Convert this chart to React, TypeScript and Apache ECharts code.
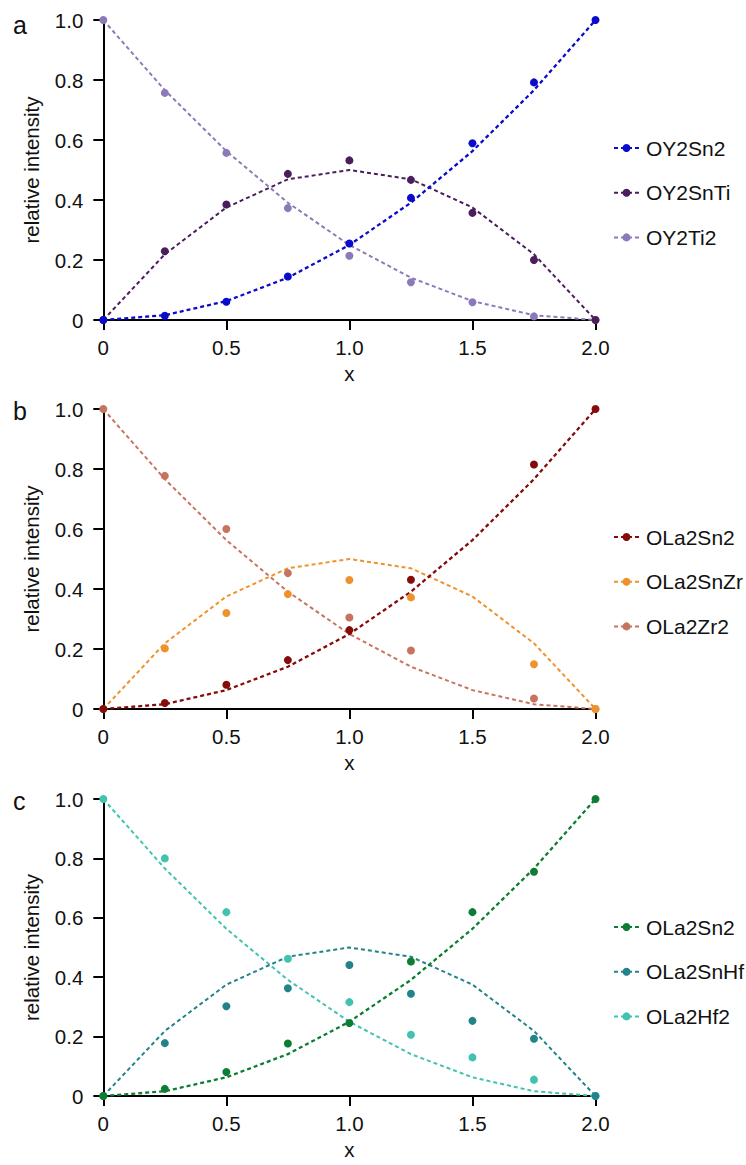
import React, { useEffect, useRef } from "react";
import * as echarts from "echarts";

// x positions (composition x)
const xValues = [0, 0.25, 0.5, 0.75, 1.0, 1.25, 1.5, 1.75, 2.0];
const xTickLabels = ["0", "0.5", "1.0", "1.5", "2.0"];
const yTickLabels = ["0", "0.2", "0.4", "0.6", "0.8", "1.0"];

// dashed (expected) curves
const lineSn2 = [0, 0.016, 0.063, 0.141, 0.25, 0.391, 0.563, 0.766, 1.0];
const lineMixed = [0, 0.219, 0.375, 0.469, 0.5, 0.469, 0.375, 0.219, 0];
const lineB2 = [1.0, 0.766, 0.563, 0.391, 0.25, 0.141, 0.063, 0.016, 0];

// panel a measured points
const aNames = ["OY2Sn2", "OY2SnTi", "OY2Ti2"];
const aColors = ["#0b0bcc", "#4a1d5c", "#8c79b9"];
const aSn2 = [0, 0.014, 0.061, 0.145, 0.255, 0.407, 0.589, 0.792, 1.0];
const aSnTi = [0, 0.229, 0.385, 0.487, 0.532, 0.467, 0.357, 0.2, 0];
const aTi2 = [1.0, 0.757, 0.557, 0.373, 0.214, 0.126, 0.059, 0.012, 0];

// panel b measured points (no point at x = 1.5)
const bNames = ["OLa2Sn2", "OLa2SnZr", "OLa2Zr2"];
const bColors = ["#860b0b", "#f0922c", "#c8735f"];
const bSn2 = [0, 0.02, 0.081, 0.163, 0.263, 0.431, null, 0.815, 1.0];
const bSnZr = [0, 0.202, 0.32, 0.383, 0.43, 0.372, null, 0.149, 0];
const bZr2 = [1.0, 0.777, 0.6, 0.453, 0.305, 0.195, null, 0.035, 0];

// panel c measured points
const cNames = ["OLa2Sn2", "OLa2SnHf", "OLa2Hf2"];
const cColors = ["#0c7d33", "#22838a", "#42c2b1"];
const cSn2 = [0, 0.024, 0.081, 0.177, 0.246, 0.453, 0.619, 0.755, 1.0];
const cSnHf = [0, 0.178, 0.302, 0.363, 0.441, 0.344, 0.253, 0.193, 0];
const cHf2 = [1.0, 0.8, 0.619, 0.462, 0.316, 0.206, 0.13, 0.055, 0];

const FONT = "'Liberation Sans', Arial, Helvetica, sans-serif";

type PanelProps = {
  letter: string;
  letterY: number;
  names: string[];
  colors: string[];
  points: (number | null)[][];
  top: number;
  height: number;
};

function buildOption(p: PanelProps) {
  const lines = [lineSn2, lineMixed, lineB2];
  const order = [2, 1, 0];
  const series: any[] = [];
  order.forEach((i) => {
    series.push({
      type: "line",
      name: p.names[i],
      data: xValues.map((x, k) => [x, lines[i][k]]),
      showSymbol: false,
      symbol: "circle",
      symbolSize: 8,
      color: p.colors[i],
      lineStyle: { color: p.colors[i], width: i === 0 ? 2.3 : 2, type: [4, 3] },
      itemStyle: { color: p.colors[i] },
      z: 2,
      silent: true,
    });
  });
  order.forEach((i) => {
    const data: number[][] = [];
    xValues.forEach((x, k) => {
      const v = p.points[i][k];
      if (v !== null && v !== undefined) data.push([x, v]);
    });
    series.push({
      type: "scatter",
      name: p.names[i],
      data,
      symbol: "circle",
      symbolSize: 8,
      itemStyle: { color: p.colors[i], opacity: 1 },
      z: 3,
      silent: true,
    });
  });

  const axisCommon = {
    axisLine: { show: true, lineStyle: { color: "#000", width: 2 } },
    axisTick: { show: true, length: 10, lineStyle: { color: "#000", width: 2 } },
    splitLine: { show: false },
    nameTextStyle: { fontSize: 20.5, color: "#111", fontFamily: FONT },
  };

  return {
    animation: false,
    textStyle: { fontFamily: FONT },
    grid: { left: 103.3, top: 20, width: 492.2, height: 302.3 },
    xAxis: {
      type: "value",
      min: 0,
      max: 2,
      interval: 0.5,
      ...axisCommon,
      axisLabel: {
        fontSize: 20.5,
        color: "#111",
        margin: 17,
        fontFamily: FONT,
        formatter: (v: number) => xTickLabels[Math.round(v / 0.5)],
      },
      name: "x",
      nameLocation: "middle",
      nameGap: 43,
    },
    yAxis: {
      type: "value",
      min: 0,
      max: 1,
      interval: 0.2,
      ...axisCommon,
      axisLabel: {
        fontSize: 20.5,
        color: "#111",
        margin: 20,
        fontFamily: FONT,
        formatter: (v: number) => yTickLabels[Math.round(v / 0.2)],
      },
      name: "relative intensity",
      nameLocation: "middle",
      nameRotate: 90,
      nameGap: 61,
    },
    legend: {
      orient: "vertical",
      left: 608,
      top: 132.5,
      itemWidth: 25,
      itemHeight: 10,
      itemGap: 23.7,
      selectedMode: false,
      data: p.names,
      textStyle: { fontSize: 21, color: "#111", fontFamily: FONT, padding: [0, 0, 0, 2] },
    },
    graphic: [
      {
        type: "text",
        left: 13,
        top: p.letterY,
        style: { text: p.letter, fontSize: 25, fill: "#111", fontFamily: FONT },
      },
    ],
    series,
  };
}

function Panel(p: PanelProps) {
  const ref = useRef<HTMLDivElement>(null);
  useEffect(() => {
    if (!ref.current) return;
    const chart = echarts.init(ref.current, null, { renderer: "svg" });
    chart.setOption(buildOption(p) as any);
    return () => chart.dispose();
  }, []);
  return (
    <div
      ref={ref}
      style={{ position: "absolute", left: 0, top: p.top, width: 746, height: p.height }}
    />
  );
}

export default function App() {
  return (
    <div style={{ position: "absolute", left: 0, top: 0, width: 746, height: 1165, background: "#fff" }}>
      <Panel letter="a" letterY={12} names={aNames} colors={aColors} points={[aSn2, aSnTi, aTi2]} top={0} height={389} />
      <Panel letter="b" letterY={9} names={bNames} colors={bColors} points={[bSn2, bSnZr, bZr2]} top={389.3} height={389} />
      <Panel letter="c" letterY={9} names={cNames} colors={cColors} points={[cSn2, cSnHf, cHf2]} top={779} height={386} />
    </div>
  );
}
